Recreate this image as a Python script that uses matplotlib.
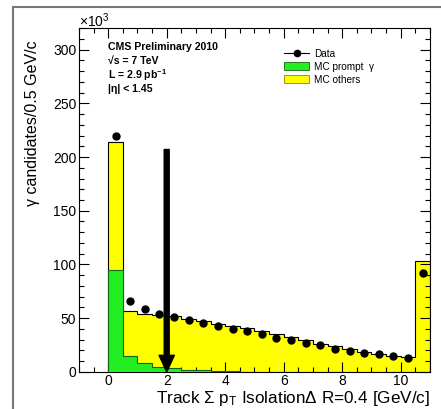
import numpy as np
import matplotlib
matplotlib.use("Agg")
import matplotlib.pyplot as plt
from matplotlib.lines import Line2D
from matplotlib.patches import Patch

plt.rcParams['font.family'] = ['Liberation Sans', 'DejaVu Sans']
plt.rcParams['mathtext.default'] = 'regular'

# -----------------------------
# data (values in units of 10^3)
# -----------------------------
bin_edges = [0.0, 0.5, 1.0, 1.5, 2.0, 2.5, 3.0, 3.5, 4.0, 4.5, 5.0, 5.5,
             6.0, 6.5, 7.0, 7.5, 8.0, 8.5, 9.0, 9.5, 10.0, 10.5, 11.0]
data_counts = [220, 66, 59, 54, 51, 48, 46, 42.6, 40.4, 38, 35.2, 32,
               29.6, 27, 25, 21.6, 19.8, 17.9, 17, 14.8, 13.3, 92]
mc_prompt = [95, 15, 8, 4.5, 3.4, 2.2, 1.5, 1.0, 0.6, 0.4, 0.3, 0.2,
             0.2, 0.1, 0.1, 0.1, 0.1, 0.1, 0.1, 0.1, 0.1, 0.3]
mc_others = [119, 41.5, 45.7, 48.5, 48.4, 47.5, 45.5, 43.5, 41.9, 40.1, 37.7, 35.3,
             32.8, 29.9, 26.4, 23.9, 21.2, 18.7, 16.2, 14.7, 13.5, 102.7]
cut_value = 2.0
arrow_top = 207

x_ticks = [0, 2, 4, 6, 8, 10]
y_ticks = [0, 50, 100, 150, 200, 250, 300]

edges = np.array(bin_edges)
centers = 0.5 * (edges[:-1] + edges[1:])
prompt = np.array(mc_prompt)
total = prompt + np.array(mc_others)

# -----------------------------
# figure
# -----------------------------
fig = plt.figure(figsize=(4.41, 4.09), dpi=100)
ax = fig.add_axes([0.179, 0.0905, 0.796, 0.841])

ax.stairs(total, edges, fill=True, color='#ffff00', zorder=1)
ax.stairs(total, edges, color='black', lw=0.8, zorder=2)
ax.stairs(prompt, edges, fill=True, color='#22ee22', zorder=3)
ax.stairs(prompt, edges, color='#116611', lw=0.8, zorder=4)

ax.plot(centers, data_counts, 'o', color='black', markersize=5, zorder=5)

ax.annotate('', xy=(cut_value, 0), xytext=(cut_value, arrow_top),
            arrowprops=dict(facecolor='black', edgecolor='black',
                            width=3.6, headwidth=11, headlength=12),
            zorder=6)

ax.set_xlim(-1, 11)
ax.set_ylim(0, 320)
ax.set_xticks(x_ticks)
ax.set_yticks(y_ticks)
ax.set_xticks(np.arange(-1, 11.01, 0.5), minor=True)
ax.set_yticks(np.arange(0, 321, 10), minor=True)
ax.tick_params(which='both', direction='in', top=True, right=True, labelsize=10)
ax.tick_params(which='major', length=7, width=0.8)
ax.tick_params(which='minor', length=3.5, width=0.8)
ax.tick_params(axis='y', pad=2)
ax.tick_params(axis='x', pad=1.5)

ax.text(0.0, 1.02, r'$\times10^{3}$', transform=ax.transAxes, fontsize=10,
        ha='left', va='center')

# labels
fig.text(0.073, 0.902, 'γ candidates/0.5 GeV/c', rotation=90, fontsize=11.5,
         ha='center', va='top')
fig.text(0.975, 0.002, 'Track Σ p$_T$ IsolationΔ R=0.4 [GeV/c]', fontsize=12.3,
         ha='right', va='bottom')

# CMS label block
info = ['CMS Preliminary 2010', '√s = 7 TeV', 'L = 2.9 pb$^{-1}$', '|η| < 1.45']
info_y = [0.945, 0.905, 0.863, 0.823]
for txt, yy in zip(info, info_y):
    ax.text(0.083, yy, txt, transform=ax.transAxes, fontsize=7.6,
            fontweight='bold', ha='left', va='center')

# legend
handles = [
    Line2D([], [], color='black', marker='o', markersize=4.5, lw=0.8),
    Patch(facecolor='#22ee22', edgecolor='#116611', lw=0.6),
    Patch(facecolor='#ffff00', edgecolor='#888800', lw=0.6),
]
ax.legend(handles, ['Data', 'MC prompt  γ', 'MC others'], loc='upper left',
          bbox_to_anchor=(0.565, 0.96), frameon=False, fontsize=7.2,
          handlelength=2.5, handleheight=0.9, labelspacing=0.3,
          handletextpad=0.5, borderpad=0.2)

# window frame lines
fig.add_artist(Line2D([13 / 441, 13 / 441], [0, 1 - 7 / 409], transform=fig.transFigure,
                      color='#777777', lw=1.5))
fig.add_artist(Line2D([13 / 441, 1], [1 - 7 / 409, 1 - 7 / 409], transform=fig.transFigure,
                      color='#777777', lw=1.5))

fig.savefig('out.png', dpi=100)
